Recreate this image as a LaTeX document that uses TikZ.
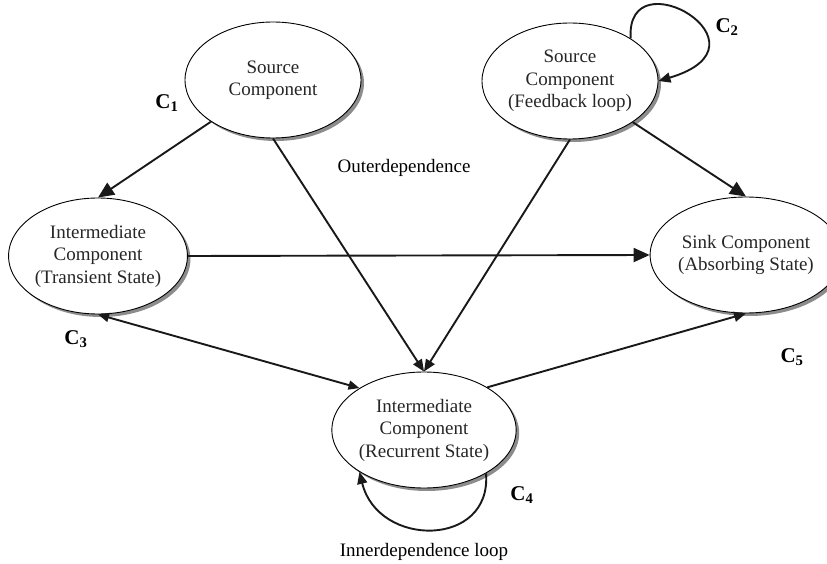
\documentclass[tikz,border=0pt]{standalone}
\usepackage{fontspec}
\setmainfont{Liberation Serif}
\usetikzlibrary{shapes.geometric,shadows,arrows.meta}
\begin{document}
\begin{tikzpicture}[x=1pt,y=-1pt,
  comp/.style={ellipse, draw=black, line width=0.9pt, fill=white,
    minimum width=176pt, minimum height=116pt, inner sep=0pt, align=center,
    text=black!85, font=\fontsize{19}{22.5}\selectfont,
    drop shadow={shadow xshift=3pt, shadow yshift=-3pt, fill=black!45, opacity=1}},
  conn/.style={line width=1.9pt, draw=black!90},
  bigarrow/.style={-{Triangle[length=16pt,width=14pt]}},
  smallarrow/.style={-{Triangle[length=12pt,width=10pt]}},
  botharrow/.style={{Triangle[length=11pt,width=9pt]}-{Triangle[length=11pt,width=9pt]}},
  lbl/.style={font=\fontsize{19}{22}\selectfont},
  clbl/.style={font=\fontsize{21}{24}\selectfont\bfseries}
]
\useasboundingbox (0,0) rectangle (827,564);
\node[comp] (s1) at (273,80) {Source\\Component};
\node[comp] (s2) at (570,81) {Source\\Component\\(Feedback loop)};
\node[comp] (tr) at (98,256) {Intermediate\\Component\\(Transient State)};
\node[comp] (sk) at (746,255) {Sink Component\\(Absorbing State)};
\node[comp] (rc) at (424,430) {Intermediate\\Component\\(Recurrent State)};

\draw[conn,bigarrow] (s1) -- (tr.north);
\draw[conn,smallarrow] (s1.south) -- (rc.north);
\draw[conn,smallarrow] (s2.south) -- (rc.north);
\draw[conn,bigarrow] (s2) -- (sk.north);
\draw[conn,bigarrow] (tr.east) -- (sk.west);
\draw[conn,botharrow] (tr.south) -- (rc.147);
\draw[conn,smallarrow] (rc.34) -- (sk.south);
\draw[conn,smallarrow] (s2.35) .. controls (625,-45) and (780,45) .. (s2.east);
\draw[conn,smallarrow] (rc.-35) .. controls (492,548) and (378,548) .. (rc.-147);

\node[clbl] (c1) at (167,103) {C\textsubscript{1}};
\node[clbl] (c2) at (727,27) {C\textsubscript{2}};
\node[clbl] (c3) at (76,339) {C\textsubscript{3}};
\node[clbl] (c4) at (522,495) {C\textsubscript{4}};
\node[clbl] (c5) at (792,357) {C\textsubscript{5}};
\node[lbl] (outer) at (404,168) {Outerdependence};
\node[lbl] (inner) at (424,552) {Innerdependence loop};
\end{tikzpicture}
\end{document}
